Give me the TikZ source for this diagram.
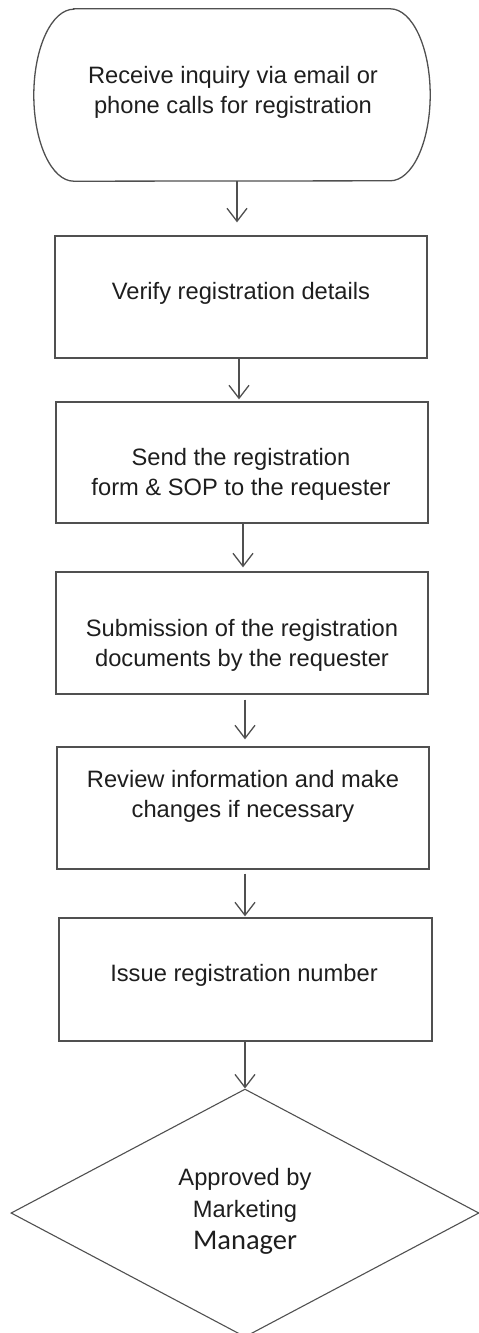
\documentclass[tikz,border=0pt]{standalone}
\usepackage{fontspec}
\setmainfont{Liberation Sans}
\newfontfamily\calib{Carlito}
\usetikzlibrary{arrows.meta,shapes.geometric}
\definecolor{linegray}{HTML}{505050}
\definecolor{txt}{HTML}{1E1E1E}
\tikzset{
  x=1pt, y=1pt,
  boxstyle/.style={draw=linegray, line width=1.3pt, rectangle, minimum width=372pt, minimum height=122pt, inner sep=0pt},
  lbl/.style={text=txt, font=\fontsize{23.7pt}{30pt}\selectfont, align=center, inner sep=0pt},
  arr/.style={draw=linegray, line width=1.3pt, -{Straight Barb[length=13pt,width=20pt,line width=1.3pt]}},
}
\begin{document}
\begin{tikzpicture}
\useasboundingbox (0,0) rectangle (479,-1333);
% terminal
\node[minimum width=396pt, minimum height=172pt, inner sep=0pt] (term) at (232,-95) {};
\draw[draw=linegray, line width=1.3pt]
  ([xshift=40pt]term.north west) -- ([xshift=-40pt]term.north east)
  arc[start angle=90, end angle=-90, x radius=40pt, y radius=86pt]
  -- ([xshift=40pt]term.south west)
  arc[start angle=270, end angle=90, x radius=40pt, y radius=86pt] -- cycle;
\node[lbl] (t0) at (233,-92) {Receive inquiry via email or\\phone calls for registration};
% boxes
\node[boxstyle] (b1) at (241,-297) {};
\node[lbl] (t1) at (241,-293) {Verify registration details};
\node[boxstyle, minimum height=121pt] (b2) at (242,-462.5) {};
\node[lbl] (t2) at (241,-474) {Send the registration\\form \& SOP to the requester};
\node[boxstyle] (b3) at (242,-633) {};
\node[lbl] (t3) at (242,-645) {Submission of the registration\\documents by the requester};
\node[boxstyle] (b4) at (243,-808) {};
\node[lbl] (t4) at (243,-796) {Review information and make\\changes if necessary};
\node[boxstyle, minimum width=373pt, minimum height=123pt] (b5) at (245.5,-979.5) {};
\node[lbl] (t5) at (244,-975) {Issue registration number};
% diamond
\node[diamond, draw=linegray, line width=1.1pt, aspect=1.887, minimum width=468pt, minimum height=248pt, inner sep=0pt] (d) at (245,-1213) {};
\node[lbl, font=\fontsize{23.7pt}{32pt}\selectfont] (td) at (245,-1211) {Approved by\\Marketing\\{\calib\fontsize{28.5pt}{32pt}\selectfont Manager}};
% connectors
\draw[arr, shorten >=13pt] ([xshift=5pt]term.south) -- ([xshift=5pt]term.south |- b1.north);
\draw[arr, shorten >=2pt] ([xshift=-2pt]b1.south) -- ([xshift=-2pt]b1.south |- b2.north);
\draw[arr, shorten >=4pt] ([xshift=1pt]b2.south) -- ([xshift=1pt]b2.south |- b3.north);
\draw[arr, shorten <=5pt, shorten >=7pt] ([xshift=3pt]b3.south) -- ([xshift=3pt]b3.south |- b4.north);
\draw[arr, shorten <=4pt, shorten >=1pt] ([xshift=2pt]b4.south) -- ([xshift=2pt]b4.south |- b5.north);
\draw[arr] ([xshift=-0.5pt]b5.south) -- ([xshift=-0.5pt]b5.south |- d.north);
\end{tikzpicture}
\end{document}
